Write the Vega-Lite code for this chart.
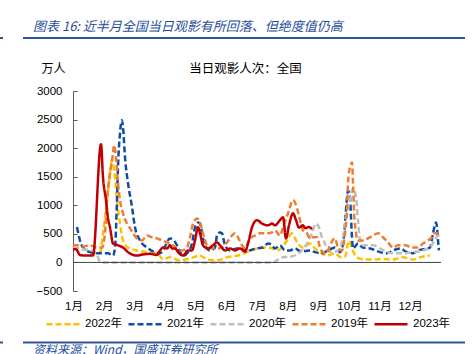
{
  "$schema": "https://vega.github.io/schema/vega-lite/v6.json",
  "width": 368,
  "height": 200,
  "autosize": {"type": "none"},
  "padding": {"left": 73, "top": 91, "right": 32, "bottom": 63},
  "background": "white",
  "title": {
    "text": "图表 16:  近半月全国当日观影有所回落、但绝度值仍高",
    "anchor": "start",
    "frame": "group",
    "dx": -40,
    "offset": 3,
    "font": "Noto Sans CJK SC",
    "fontSize": 13,
    "fontStyle": "italic",
    "fontWeight": "normal",
    "color": "#1F4E9C"
  },
  "config": {
    "view": {"stroke": null},
    "font": "Liberation Sans, Noto Sans CJK SC",
    "axis": {"labelFont": "Liberation Sans, Noto Sans CJK SC", "titleFont": "Noto Sans CJK SC", "labelOverlap": false, "labelFlush": false}
  },
  "resolve": {"axis": {"x": "independent", "y": "independent"}},
  "layer": [
    {
      "data": {
        "values": [
          {"s":"2022年","d":0,"v":230},{"s":"2022年","d":5,"v":250},{"s":"2022年","d":10,"v":230},{"s":"2022年","d":15,"v":210},{"s":"2022年","d":22,"v":170},{"s":"2022年","d":27,"v":170},{"s":"2022年","d":30,"v":510},{"s":"2022年","d":34,"v":1090},{"s":"2022年","d":37,"v":1560},{"s":"2022年","d":39,"v":1790},{"s":"2022年","d":42,"v":1490},{"s":"2022年","d":44,"v":1090},{"s":"2022年","d":47,"v":680},{"s":"2022年","d":50,"v":385},{"s":"2022年","d":55,"v":260},{"s":"2022年","d":64,"v":210},{"s":"2022年","d":74,"v":180},{"s":"2022年","d":84,"v":160},{"s":"2022年","d":90,"v":60},{"s":"2022年","d":97,"v":90},{"s":"2022年","d":107,"v":35},{"s":"2022年","d":117,"v":70},{"s":"2022年","d":127,"v":120},{"s":"2022年","d":134,"v":50},{"s":"2022年","d":144,"v":35},{"s":"2022年","d":154,"v":90},{"s":"2022年","d":159,"v":105},{"s":"2022年","d":165,"v":120},{"s":"2022年","d":174,"v":180},{"s":"2022年","d":178,"v":210},{"s":"2022年","d":184,"v":245},{"s":"2022年","d":192,"v":260},{"s":"2022年","d":199,"v":250},{"s":"2022年","d":204,"v":210},{"s":"2022年","d":209,"v":260},{"s":"2022年","d":214,"v":385},{"s":"2022年","d":219,"v":510},{"s":"2022年","d":222,"v":420},{"s":"2022年","d":225,"v":330},{"s":"2022年","d":230,"v":260},{"s":"2022年","d":237,"v":330},{"s":"2022年","d":242,"v":245},{"s":"2022年","d":247,"v":180},{"s":"2022年","d":254,"v":120},{"s":"2022年","d":262,"v":160},{"s":"2022年","d":268,"v":90},{"s":"2022年","d":272,"v":100},{"s":"2022年","d":276,"v":380},{"s":"2022年","d":279,"v":250},{"s":"2022年","d":283,"v":100},{"s":"2022年","d":288,"v":60},{"s":"2022年","d":300,"v":50},{"s":"2022年","d":310,"v":60},{"s":"2022年","d":320,"v":50},{"s":"2022年","d":330,"v":90},{"s":"2022年","d":340,"v":50},{"s":"2022年","d":347,"v":90},{"s":"2022年","d":357,"v":120},
          {"s":"2021年","d":4,"v":620},{"s":"2021年","d":7,"v":385},{"s":"2021年","d":10,"v":260},{"s":"2021年","d":17,"v":180},{"s":"2021年","d":24,"v":160},{"s":"2021年","d":30,"v":160},{"s":"2021年","d":35,"v":160},{"s":"2021年","d":40,"v":120},{"s":"2021年","d":42,"v":260},{"s":"2021年","d":44,"v":1090},{"s":"2021年","d":45,"v":1670},{"s":"2021年","d":47,"v":2260},{"s":"2021年","d":49,"v":2490},{"s":"2021年","d":50,"v":2370},{"s":"2021年","d":52,"v":1840},{"s":"2021年","d":55,"v":1390},{"s":"2021年","d":59,"v":970},{"s":"2021年","d":62,"v":615},{"s":"2021年","d":67,"v":385},{"s":"2021年","d":74,"v":260},{"s":"2021年","d":82,"v":180},{"s":"2021年","d":87,"v":160},{"s":"2021年","d":90,"v":210},{"s":"2021年","d":97,"v":420},{"s":"2021年","d":100,"v":400},{"s":"2021年","d":104,"v":300},{"s":"2021年","d":107,"v":180},{"s":"2021年","d":110,"v":120},{"s":"2021年","d":115,"v":180},{"s":"2021年","d":119,"v":330},{"s":"2021年","d":122,"v":615},{"s":"2021年","d":125,"v":700},{"s":"2021年","d":127,"v":680},{"s":"2021年","d":130,"v":420},{"s":"2021年","d":134,"v":245},{"s":"2021年","d":137,"v":210},{"s":"2021年","d":142,"v":260},{"s":"2021年","d":144,"v":470},{"s":"2021年","d":147,"v":525},{"s":"2021年","d":149,"v":510},{"s":"2021年","d":152,"v":300},{"s":"2021年","d":157,"v":210},{"s":"2021年","d":164,"v":245},{"s":"2021年","d":170,"v":245},{"s":"2021年","d":174,"v":180},{"s":"2021年","d":177,"v":210},{"s":"2021年","d":184,"v":245},{"s":"2021年","d":190,"v":260},{"s":"2021年","d":195,"v":330},{"s":"2021年","d":199,"v":300},{"s":"2021年","d":202,"v":245},{"s":"2021年","d":207,"v":300},{"s":"2021年","d":212,"v":210},{"s":"2021年","d":217,"v":210},{"s":"2021年","d":222,"v":245},{"s":"2021年","d":227,"v":200},{"s":"2021年","d":232,"v":200},{"s":"2021年","d":237,"v":210},{"s":"2021年","d":242,"v":180},{"s":"2021年","d":249,"v":160},{"s":"2021年","d":255,"v":210},{"s":"2021年","d":262,"v":260},{"s":"2021年","d":267,"v":180},{"s":"2021年","d":270,"v":330},{"s":"2021年","d":272,"v":680},{"s":"2021年","d":274,"v":1140},{"s":"2021年","d":275,"v":1260},{"s":"2021年","d":277,"v":1140},{"s":"2021年","d":278,"v":790},{"s":"2021年","d":279,"v":440},{"s":"2021年","d":280,"v":245},{"s":"2021年","d":285,"v":330},{"s":"2021年","d":290,"v":260},{"s":"2021年","d":297,"v":245},{"s":"2021年","d":307,"v":180},{"s":"2021年","d":314,"v":160},{"s":"2021年","d":320,"v":210},{"s":"2021年","d":327,"v":245},{"s":"2021年","d":334,"v":180},{"s":"2021年","d":340,"v":160},{"s":"2021年","d":345,"v":210},{"s":"2021年","d":350,"v":230},{"s":"2021年","d":357,"v":260},{"s":"2021年","d":360,"v":510},{"s":"2021年","d":363,"v":700},{"s":"2021年","d":364,"v":615},{"s":"2021年","d":365,"v":385},{"s":"2021年","d":366,"v":210},
          {"s":"2020年","d":0,"v":250},{"s":"2020年","d":5,"v":250},{"s":"2020年","d":10,"v":230},{"s":"2020年","d":15,"v":220},{"s":"2020年","d":20,"v":200},{"s":"2020年","d":24,"v":120},{"s":"2020年","d":28,"v":0},{"s":"2020年","d":60,"v":0},{"s":"2020年","d":100,"v":0},{"s":"2020年","d":150,"v":0},{"s":"2020年","d":200,"v":0},{"s":"2020年","d":205,"v":50},{"s":"2020年","d":210,"v":90},{"s":"2020年","d":217,"v":100},{"s":"2020年","d":224,"v":140},{"s":"2020年","d":229,"v":210},{"s":"2020年","d":234,"v":330},{"s":"2020年","d":239,"v":510},{"s":"2020年","d":243,"v":680},{"s":"2020年","d":245,"v":650},{"s":"2020年","d":249,"v":440},{"s":"2020年","d":252,"v":330},{"s":"2020年","d":255,"v":210},{"s":"2020年","d":260,"v":180},{"s":"2020年","d":265,"v":210},{"s":"2020年","d":270,"v":440},{"s":"2020年","d":273,"v":790},{"s":"2020年","d":277,"v":1100},{"s":"2020年","d":280,"v":1300},{"s":"2020年","d":283,"v":1140},{"s":"2020年","d":285,"v":740},{"s":"2020年","d":287,"v":385},{"s":"2020年","d":290,"v":300},{"s":"2020年","d":300,"v":300},{"s":"2020年","d":307,"v":245},{"s":"2020年","d":314,"v":180},{"s":"2020年","d":320,"v":160},{"s":"2020年","d":330,"v":160},{"s":"2020年","d":340,"v":180},{"s":"2020年","d":350,"v":210},{"s":"2020年","d":357,"v":260},{"s":"2020年","d":362,"v":400},{"s":"2020年","d":365,"v":470},{"s":"2020年","d":367,"v":430},
          {"s":"2019年","d":0,"v":300},{"s":"2019年","d":4,"v":300},{"s":"2019年","d":10,"v":280},{"s":"2019年","d":17,"v":300},{"s":"2019年","d":24,"v":260},{"s":"2019年","d":29,"v":260},{"s":"2019年","d":32,"v":510},{"s":"2019年","d":34,"v":1090},{"s":"2019年","d":37,"v":1560},{"s":"2019年","d":40,"v":1910},{"s":"2019年","d":41,"v":2050},{"s":"2019年","d":43,"v":1840},{"s":"2019年","d":45,"v":1390},{"s":"2019年","d":47,"v":1090},{"s":"2019年","d":50,"v":860},{"s":"2019年","d":54,"v":680},{"s":"2019年","d":57,"v":600},{"s":"2019年","d":60,"v":510},{"s":"2019年","d":64,"v":420},{"s":"2019年","d":69,"v":385},{"s":"2019年","d":74,"v":470},{"s":"2019年","d":79,"v":440},{"s":"2019年","d":84,"v":420},{"s":"2019年","d":89,"v":385},{"s":"2019年","d":94,"v":350},{"s":"2019年","d":97,"v":330},{"s":"2019年","d":104,"v":245},{"s":"2019年","d":109,"v":210},{"s":"2019年","d":114,"v":260},{"s":"2019年","d":117,"v":440},{"s":"2019年","d":120,"v":680},{"s":"2019年","d":124,"v":770},{"s":"2019年","d":127,"v":700},{"s":"2019年","d":130,"v":510},{"s":"2019年","d":134,"v":300},{"s":"2019年","d":139,"v":245},{"s":"2019年","d":144,"v":245},{"s":"2019年","d":149,"v":260},{"s":"2019年","d":154,"v":350},{"s":"2019年","d":159,"v":470},{"s":"2019年","d":162,"v":510},{"s":"2019年","d":165,"v":440},{"s":"2019年","d":169,"v":300},{"s":"2019年","d":172,"v":245},{"s":"2019年","d":177,"v":420},{"s":"2019年","d":182,"v":470},{"s":"2019年","d":187,"v":510},{"s":"2019年","d":194,"v":510},{"s":"2019年","d":199,"v":525},{"s":"2019年","d":202,"v":560},{"s":"2019年","d":207,"v":470},{"s":"2019年","d":210,"v":615},{"s":"2019年","d":215,"v":860},{"s":"2019年","d":220,"v":1090},{"s":"2019年","d":224,"v":950},{"s":"2019年","d":227,"v":740},{"s":"2019年","d":230,"v":560},{"s":"2019年","d":234,"v":510},{"s":"2019年","d":237,"v":420},{"s":"2019年","d":240,"v":440},{"s":"2019年","d":244,"v":440},{"s":"2019年","d":247,"v":260},{"s":"2019年","d":250,"v":180},{"s":"2019年","d":254,"v":160},{"s":"2019年","d":257,"v":300},{"s":"2019年","d":262,"v":420},{"s":"2019年","d":265,"v":260},{"s":"2019年","d":269,"v":210},{"s":"2019年","d":272,"v":510},{"s":"2019年","d":274,"v":910},{"s":"2019年","d":275,"v":1390},{"s":"2019年","d":277,"v":1670},{"s":"2019年","d":279,"v":1750},{"s":"2019年","d":280,"v":1390},{"s":"2019年","d":281,"v":910},{"s":"2019年","d":283,"v":510},{"s":"2019年","d":285,"v":385},{"s":"2019年","d":290,"v":385},{"s":"2019年","d":295,"v":420},{"s":"2019年","d":300,"v":470},{"s":"2019年","d":305,"v":510},{"s":"2019年","d":310,"v":440},{"s":"2019年","d":315,"v":350},{"s":"2019年","d":320,"v":260},{"s":"2019年","d":325,"v":300},{"s":"2019年","d":332,"v":300},{"s":"2019年","d":339,"v":260},{"s":"2019年","d":345,"v":260},{"s":"2019年","d":350,"v":330},{"s":"2019年","d":355,"v":385},{"s":"2019年","d":359,"v":440},{"s":"2019年","d":362,"v":510},{"s":"2019年","d":365,"v":510},
          {"s":"2023年","d":0,"v":230},{"s":"2023年","d":3,"v":230},{"s":"2023年","d":7,"v":130},{"s":"2023年","d":13,"v":120},{"s":"2023年","d":20,"v":120},{"s":"2023年","d":28,"v":2070},{"s":"2023年","d":30,"v":1490},{"s":"2023年","d":33,"v":1090},{"s":"2023年","d":35,"v":770},{"s":"2023年","d":37,"v":615},{"s":"2023年","d":40,"v":330},{"s":"2023年","d":45,"v":300},{"s":"2023年","d":50,"v":260},{"s":"2023年","d":55,"v":180},{"s":"2023年","d":64,"v":120},{"s":"2023年","d":70,"v":140},{"s":"2023年","d":77,"v":150},{"s":"2023年","d":84,"v":130},{"s":"2023年","d":87,"v":210},{"s":"2023年","d":90,"v":260},{"s":"2023年","d":94,"v":245},{"s":"2023年","d":97,"v":300},{"s":"2023年","d":99,"v":245},{"s":"2023年","d":102,"v":245},{"s":"2023年","d":105,"v":180},{"s":"2023年","d":110,"v":120},{"s":"2023年","d":115,"v":210},{"s":"2023年","d":119,"v":210},{"s":"2023年","d":122,"v":385},{"s":"2023年","d":125,"v":615},{"s":"2023年","d":127,"v":510},{"s":"2023年","d":130,"v":300},{"s":"2023年","d":135,"v":245},{"s":"2023年","d":140,"v":300},{"s":"2023年","d":144,"v":350},{"s":"2023年","d":147,"v":300},{"s":"2023年","d":152,"v":210},{"s":"2023年","d":157,"v":245},{"s":"2023年","d":162,"v":210},{"s":"2023年","d":167,"v":245},{"s":"2023年","d":172,"v":190},{"s":"2023年","d":175,"v":330},{"s":"2023年","d":179,"v":615},{"s":"2023年","d":184,"v":740},{"s":"2023年","d":189,"v":680},{"s":"2023年","d":195,"v":650},{"s":"2023年","d":199,"v":680},{"s":"2023年","d":202,"v":650},{"s":"2023年","d":207,"v":740},{"s":"2023年","d":210,"v":790},{"s":"2023年","d":213,"v":420},{"s":"2023年","d":216,"v":650},{"s":"2023年","d":220,"v":860},{"s":"2023年","d":223,"v":740},{"s":"2023年","d":226,"v":610},{"s":"2023年","d":230,"v":650},{"s":"2023年","d":232,"v":600},{"s":"2023年","d":236,"v":620},{"s":"2023年","d":239,"v":580}
        ]
      },
      "mark": {"type": "line", "interpolate": "monotone"},
      "encoding": {
        "x": {
          "field": "d", "type": "quantitative",
          "scale": {"domain": [0, 368], "nice": false, "zero": false},
          "axis": {
            "orient": "bottom",
            "values": [0.5, 31.1, 61.7, 92.3, 122.9, 153.5, 184.1, 214.7, 245.3, 275.9, 306.5, 337.1],
            "labelExpr": "round((datum.value - 0.5) / 30.6 + 1) + '月'",
            "domain": false, "ticks": false, "grid": false,
            "labelPadding": 9, "labelFontSize": 11.5, "labelColor": "#000000",
            "labelFlush": false, "labelOverlap": false,
            "title": "当日观影人次：全国",
            "titleFontSize": 12.5, "titleFontWeight": "normal", "titleColor": "#000000",
            "titleX": 172, "titleY": -223, "titleAlign": "center", "titleBaseline": "middle", "titleAnchor": null
          }
        },
        "y": {
          "field": "v", "type": "quantitative",
          "scale": {"domain": [-500, 3000], "nice": false, "zero": false},
          "axis": {
            "values": [-500, 0, 500, 1000, 1500, 2000, 2500, 3000],
            "format": "d",
            "grid": false, "domainColor": "#595959", "tickColor": "#595959",
            "tickSize": -4, "labelPadding": 15, "labelFontSize": 11.5, "labelColor": "#000000",
            "labelFlush": false, "labelOverlap": false,
            "title": "万人", "titleAngle": 0, "titleX": -20, "titleY": -23,
            "titleAlign": "center", "titleBaseline": "middle",
            "titleFontSize": 12, "titleFontWeight": "normal", "titleColor": "#000000"
          }
        },
        "color": {
          "field": "s", "type": "nominal",
          "scale": {"domain": ["2022年", "2021年", "2020年", "2019年", "2023年"],
                    "range": ["#FFC000", "#0E4DA4", "#BFBFBF", "#ED7D31", "#C00000"]},
          "legend": {
            "orient": "none", "legendX": -28, "legendY": 215, "direction": "horizontal",
            "title": null, "symbolType": "stroke", "symbolSize": 1089, "symbolStrokeWidth": 2.5,
            "labelFontSize": 11.5, "labelColor": "#000000", "labelOffset": 4, "columnPadding": 0,
            "labelFont": "Liberation Sans, Noto Sans CJK SC"
          }
        },
        "strokeDash": {
          "field": "s", "type": "nominal",
          "scale": {"domain": ["2022年", "2021年", "2020年", "2019年", "2023年"],
                    "range": [[6, 3], [6, 3], [6, 3], [6, 3], [1, 0]]},
          "legend": {
            "orient": "none", "legendX": -28, "legendY": 215, "direction": "horizontal",
            "title": null, "symbolType": "stroke", "symbolSize": 1089, "symbolStrokeWidth": 2.5,
            "labelFontSize": 11.5, "labelColor": "#000000", "labelOffset": 4, "columnPadding": 0,
            "labelFont": "Liberation Sans, Noto Sans CJK SC"
          }
        },
        "strokeWidth": {
          "field": "s", "type": "nominal",
          "scale": {"domain": ["2022年", "2021年", "2020年", "2019年", "2023年"],
                    "range": [2.5, 2.5, 2.5, 2.5, 3.5]},
          "legend": {
            "orient": "none", "legendX": -28, "legendY": 215, "direction": "horizontal",
            "title": null, "symbolType": "stroke", "symbolSize": 1089,
            "labelFontSize": 11.5, "labelColor": "#000000", "labelOffset": 4, "columnPadding": 0,
            "labelFont": "Liberation Sans, Noto Sans CJK SC"
          }
        }
      }
    },
    {
      "data": {"values": [{"a": 0, "b": 368, "y": 0}]},
      "mark": {"type": "rule", "color": "#404040", "strokeWidth": 1},
      "encoding": {
        "x": {"field": "a", "type": "quantitative", "axis": null},
        "x2": {"field": "b"},
        "y": {"field": "y", "type": "quantitative", "axis": null}
      }
    },
    {
      "data": {"values": [
        {"a": -50, "b": 392, "y": 3927.5},
        {"a": -73, "b": -70, "y": 3927.5},
        {"a": -50, "b": 392, "y": -1401},
        {"a": -73, "b": -70, "y": -1401}
      ]},
      "mark": {"type": "rule", "color": "#2E5597", "strokeWidth": 2},
      "encoding": {
        "x": {"field": "a", "type": "quantitative", "axis": null},
        "x2": {"field": "b"},
        "y": {"field": "y", "type": "quantitative", "axis": null}
      }
    },
    {
      "data": {"values": [{"a": -40, "y": -1530, "t": "资料来源：Wind，国盛证券研究所"}]},
      "mark": {"type": "text", "align": "left", "baseline": "middle", "font": "Noto Sans CJK SC",
               "fontStyle": "italic", "fontSize": 12, "color": "#1F4E9C"},
      "encoding": {
        "x": {"field": "a", "type": "quantitative", "axis": null},
        "y": {"field": "y", "type": "quantitative", "axis": null},
        "text": {"field": "t"}
      }
    }
  ]
}
